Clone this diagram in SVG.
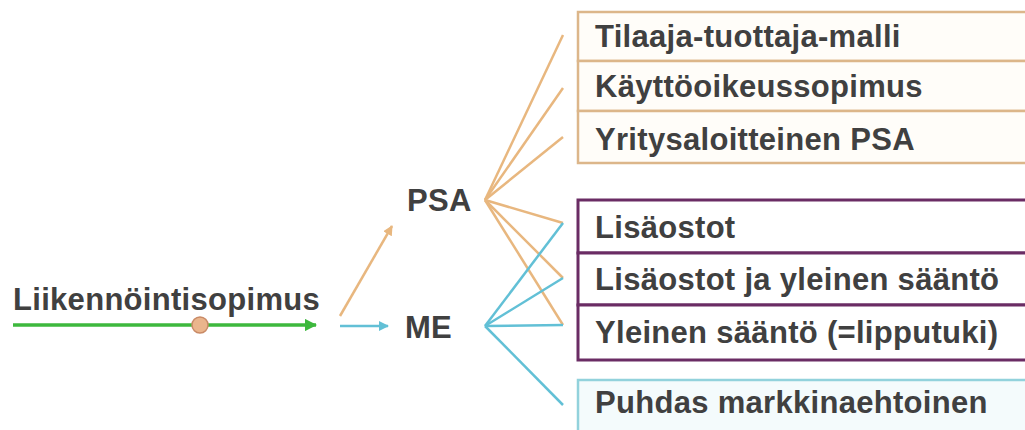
<svg xmlns="http://www.w3.org/2000/svg" width="1025" height="430" viewBox="0 0 1025 430">
<defs>
<style>
text{font-family:"Liberation Sans",Arial,sans-serif;font-weight:bold;font-size:31px;letter-spacing:0.3px;fill:#404040}
.or{stroke:#e8b77f;stroke-width:2.5;fill:none}
.cy{stroke:#62c0d6;stroke-width:2.5;fill:none}
.bo{fill:#fffdf9;stroke:#dcb68a;stroke-width:2.5}
.bp{fill:#ffffff;stroke:#6a2c64;stroke-width:3}
.bc{fill:#f4fbfc;stroke:#92d2dc;stroke-width:2.5}
</style>
<marker id="ag" viewBox="0 0 10 10" refX="9" refY="5" markerWidth="3.5" markerHeight="3.5" orient="auto" markerUnits="strokeWidth"><path d="M0,0L10,5L0,10z" fill="#3db83d"/></marker>
<marker id="ao" viewBox="0 0 10 10" refX="9" refY="5" markerWidth="4" markerHeight="4" orient="auto" markerUnits="strokeWidth"><path d="M0,0L10,5L0,10z" fill="#e8b77f"/></marker>
<marker id="ac" viewBox="0 0 10 10" refX="9" refY="5" markerWidth="4" markerHeight="4" orient="auto" markerUnits="strokeWidth"><path d="M0,0L10,5L0,10z" fill="#62c0d6"/></marker>
</defs>
<rect width="1025" height="430" fill="#ffffff"/>
<g id="connectors">
<line x1="13" y1="325" x2="316" y2="325" stroke="#3db83d" stroke-width="3.5" marker-end="url(#ag)"/>
<line class="or" x1="340" y1="316" x2="392" y2="226" marker-end="url(#ao)"/>
<line class="cy" x1="340" y1="326" x2="388" y2="326" marker-end="url(#ac)"/>
<line class="or" x1="485" y1="200" x2="563" y2="35"/>
<line class="or" x1="485" y1="200" x2="563" y2="88"/>
<line class="or" x1="485" y1="200" x2="563" y2="137"/>
<line class="or" x1="485" y1="200" x2="563" y2="223"/>
<line class="or" x1="485" y1="200" x2="563" y2="278"/>
<line class="or" x1="485" y1="200" x2="563" y2="325"/>
<line class="cy" x1="485" y1="326" x2="563" y2="223"/>
<line class="cy" x1="485" y1="326" x2="563" y2="278"/>
<line class="cy" x1="485" y1="326" x2="563" y2="325"/>
<line class="cy" x1="485" y1="326" x2="563" y2="405"/>
</g>
<g id="liikennointisopimus">
<text x="13" y="310">Liikennöintisopimus</text>
<circle cx="200" cy="325" r="8" fill="#eab58c" stroke="#c98a66" stroke-width="1.5"/>
</g>
<g id="psa"><text x="407" y="211">PSA</text></g>
<g id="me"><text x="405" y="338">ME</text></g>
<g id="tilaaja"><rect class="bo" x="578" y="12" width="460" height="49"/><text x="595" y="47">Tilaaja-tuottaja-malli</text></g>
<g id="kayttooikeus"><rect class="bo" x="578" y="61" width="460" height="50"/><text x="595" y="97">Käyttöoikeussopimus</text></g>
<g id="yritysaloitteinen"><rect class="bo" x="578" y="111" width="460" height="52"/><text x="595" y="150">Yritysaloitteinen PSA</text></g>
<g id="lisaostot"><rect class="bp" x="578" y="200" width="460" height="53"/><text x="595" y="238">Lisäostot</text></g>
<g id="lisaostot-yleinen"><rect class="bp" x="578" y="253" width="460" height="52"/><text x="595" y="290">Lisäostot ja yleinen sääntö</text></g>
<g id="yleinen"><rect class="bp" x="578" y="305" width="460" height="55"/><text x="595" y="343">Yleinen sääntö (=lipputuki)</text></g>
<g id="puhdas"><rect class="bc" x="578" y="380" width="460" height="60"/><text x="595" y="413">Puhdas markkinaehtoinen</text></g>
</svg>
